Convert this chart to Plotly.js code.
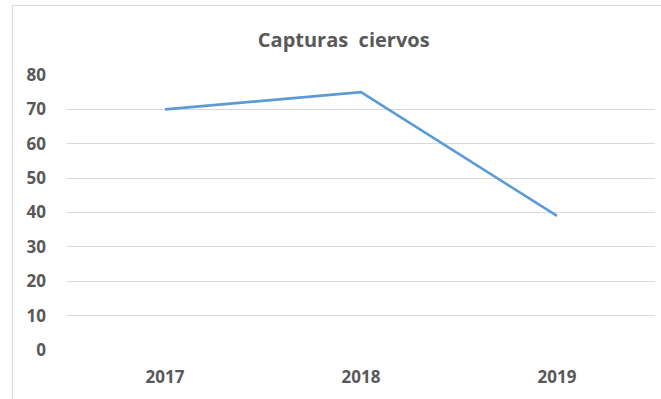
<!DOCTYPE html>
<html>
<head>
<meta charset="utf-8">
<script src="https://cdn.plot.ly/plotly-3.0.1.min.js"></script>
<style>
  html, body { margin: 0; padding: 0; background: #fff; overflow: hidden; }
  #chart { width: 661px; height: 399px; }
  #frame { position: absolute; left: 12px; top: 5px; width: 700px; height: 450px;
           border: 1px solid #d9d9d9; pointer-events: none; }
</style>
</head>
<body>
<div id="chart"></div>
<div id="frame"></div>
<script>
const years = ['2017', '2018', '2019'];
const capturas = [70, 75, 39];
const yTicks = [0, 10, 20, 30, 40, 50, 60, 70, 80];

const trace = {
  x: years,
  y: capturas,
  type: 'scatter',
  mode: 'lines',
  line: { color: '#5B9BD5', width: 2.6 },
  hoverinfo: 'skip'
};

const font = { family: '"Open Sans", "Liberation Sans", sans-serif', color: '#595959' };

const layout = {
  width: 661,
  height: 399,
  margin: { l: 67, r: 6, t: 75, b: 49 },
  paper_bgcolor: '#ffffff',
  plot_bgcolor: '#ffffff',
  showlegend: false,
  title: {
    text: 'Capturas  ciervos',
    font: { family: font.family, color: font.color, size: 20, weight: 'bold' },
    x: 0.52, xref: 'container', xanchor: 'center',
    y: 0.9, yref: 'container', yanchor: 'middle'
  },
  xaxis: {
    type: 'category',
    range: [-0.5, 2.5],
    showgrid: false,
    zeroline: false,
    showline: false,
    ticks: '',
    tickfont: { family: font.family, color: font.color, size: 17, weight: 'bold' },
    ticklabelstandoff: 15,
    fixedrange: true
  },
  yaxis: {
    range: [0, 80],
    tickvals: yTicks,
    ticktext: yTicks.map(String),
    showgrid: true,
    gridcolor: '#d9d9d9',
    gridwidth: 1,
    zeroline: false,
    showline: false,
    ticks: '',
    ticklabelstandoff: 20,
    tickfont: { family: font.family, color: font.color, size: 17, weight: 'bold' },
    fixedrange: true
  }
};

Plotly.newPlot('chart', [trace], layout, { displayModeBar: false, staticPlot: true });
</script>
</body>
</html>
